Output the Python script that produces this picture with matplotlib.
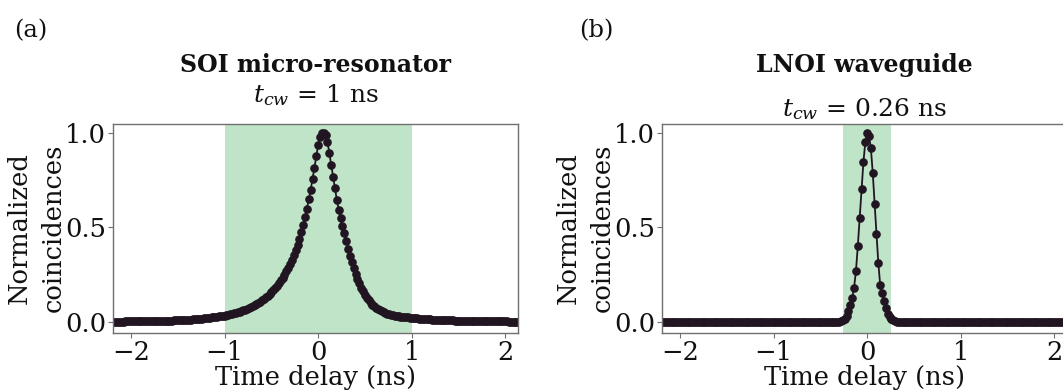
import numpy as np
import matplotlib
matplotlib.use("Agg")
import matplotlib.pyplot as plt

# ---------------- data ----------------
delay_ns = [
    -2.20, -2.18, -2.16, -2.14, -2.12, -2.10, -2.08, -2.06, -2.04, -2.02,
    -2.00, -1.98, -1.96, -1.94, -1.92, -1.90, -1.88, -1.86, -1.84, -1.82,
    -1.80, -1.78, -1.76, -1.74, -1.72, -1.70, -1.68, -1.66, -1.64, -1.62,
    -1.60, -1.58, -1.56, -1.54, -1.52, -1.50, -1.48, -1.46, -1.44, -1.42,
    -1.40, -1.38, -1.36, -1.34, -1.32, -1.30, -1.28, -1.26, -1.24, -1.22,
    -1.20, -1.18, -1.16, -1.14, -1.12, -1.10, -1.08, -1.06, -1.04, -1.02,
    -1.00, -0.98, -0.96, -0.94, -0.92, -0.90, -0.88, -0.86, -0.84, -0.82,
    -0.80, -0.78, -0.76, -0.74, -0.72, -0.70, -0.68, -0.66, -0.64, -0.62,
    -0.60, -0.58, -0.56, -0.54, -0.52, -0.50, -0.48, -0.46, -0.44, -0.42,
    -0.40, -0.38, -0.36, -0.34, -0.32, -0.30, -0.28, -0.26, -0.24, -0.22,
    -0.20, -0.18, -0.16, -0.14, -0.12, -0.10, -0.08, -0.06, -0.04, -0.02,
    0.00, 0.02, 0.04, 0.06, 0.08, 0.10, 0.12, 0.14, 0.16, 0.18,
    0.20, 0.22, 0.24, 0.26, 0.28, 0.30, 0.32, 0.34, 0.36, 0.38,
    0.40, 0.42, 0.44, 0.46, 0.48, 0.50, 0.52, 0.54, 0.56, 0.58,
    0.60, 0.62, 0.64, 0.66, 0.68, 0.70, 0.72, 0.74, 0.76, 0.78,
    0.80, 0.82, 0.84, 0.86, 0.88, 0.90, 0.92, 0.94, 0.96, 0.98,
    1.00, 1.02, 1.04, 1.06, 1.08, 1.10, 1.12, 1.14, 1.16, 1.18,
    1.20, 1.22, 1.24, 1.26, 1.28, 1.30, 1.32, 1.34, 1.36, 1.38,
    1.40, 1.42, 1.44, 1.46, 1.48, 1.50, 1.52, 1.54, 1.56, 1.58,
    1.60, 1.62, 1.64, 1.66, 1.68, 1.70, 1.72, 1.74, 1.76, 1.78,
    1.80, 1.82, 1.84, 1.86, 1.88, 1.90, 1.92, 1.94, 1.96, 1.98,
    2.00, 2.02, 2.04, 2.06, 2.08, 2.10, 2.12, 2.14, 2.16, 2.18,
    2.20,
]

soi_coinc = [
    0.0040, 0.0041, 0.0042, 0.0043, 0.0044, 0.0045, 0.0046, 0.0047, 0.0048, 0.0049,
    0.0050, 0.0051, 0.0052, 0.0053, 0.0055, 0.0056, 0.0057, 0.0059, 0.0061, 0.0063,
    0.0065, 0.0067, 0.0069, 0.0071, 0.0073, 0.0075, 0.0078, 0.0081, 0.0084, 0.0087,
    0.0090, 0.0093, 0.0097, 0.0100, 0.0105, 0.0110, 0.0115, 0.0120, 0.0125, 0.0130,
    0.0140, 0.0145, 0.0150, 0.0160, 0.0165, 0.0170, 0.0180, 0.0190, 0.0200, 0.0210,
    0.022, 0.023, 0.024, 0.026, 0.027, 0.028, 0.030, 0.031, 0.033, 0.034,
    0.036, 0.038, 0.040, 0.042, 0.045, 0.047, 0.050, 0.053, 0.056, 0.059,
    0.063, 0.067, 0.071, 0.075, 0.080, 0.085, 0.090, 0.096, 0.102, 0.109,
    0.116, 0.124, 0.132, 0.141, 0.150, 0.160, 0.171, 0.182, 0.194, 0.207,
    0.221, 0.236, 0.252, 0.269, 0.288, 0.308, 0.330, 0.354, 0.380, 0.408,
    0.439, 0.474, 0.512, 0.554, 0.600, 0.648, 0.699, 0.755, 0.815, 0.876,
    0.934, 0.975, 0.997, 1.000, 0.985, 0.952, 0.890, 0.829, 0.767, 0.706,
    0.645, 0.592, 0.548, 0.508, 0.469, 0.428, 0.389, 0.352, 0.318, 0.286,
    0.256, 0.229, 0.205, 0.183, 0.163, 0.146, 0.130, 0.116, 0.104, 0.094,
    0.085, 0.077, 0.070, 0.064, 0.059, 0.054, 0.050, 0.046, 0.043, 0.040,
    0.038, 0.036, 0.034, 0.032, 0.030, 0.029, 0.028, 0.027, 0.026, 0.025,
    0.024, 0.023, 0.022, 0.021, 0.020, 0.019, 0.018, 0.0175, 0.017, 0.016,
    0.0155, 0.0150, 0.0145, 0.0140, 0.0135, 0.0130, 0.0125, 0.0120, 0.0116, 0.0112,
    0.0108, 0.0104, 0.0100, 0.0097, 0.0094, 0.0091, 0.0088, 0.0085, 0.0082, 0.0080,
    0.0078, 0.0076, 0.0074, 0.0072, 0.0070, 0.0068, 0.0066, 0.0064, 0.0062, 0.0060,
    0.0058, 0.0057, 0.0056, 0.0055, 0.0054, 0.0053, 0.0052, 0.0051, 0.0050, 0.0049,
    0.0048, 0.0047, 0.0046, 0.0045, 0.0044, 0.0043, 0.0042, 0.0042, 0.0041, 0.0041,
    0.0040,
]

lnoi_coinc = [
    0.0, 0.0, 0.0, 0.0, 0.0, 0.0, 0.0, 0.0, 0.0, 0.0,
    0.0, 0.0, 0.0, 0.0, 0.0, 0.0, 0.0, 0.0, 0.0, 0.0,
    0.0, 0.0, 0.0, 0.0, 0.0, 0.0, 0.0, 0.0, 0.0, 0.0,
    0.0, 0.0, 0.0, 0.0, 0.0, 0.0, 0.0, 0.0, 0.0, 0.0,
    0.0, 0.0, 0.0, 0.0, 0.0, 0.0, 0.0, 0.0, 0.0, 0.0,
    0.0, 0.0, 0.0, 0.0, 0.0, 0.0, 0.0, 0.0, 0.0, 0.0,
    0.0, 0.0, 0.0, 0.0, 0.0, 0.0, 0.0, 0.0, 0.0, 0.0,
    0.0, 0.0, 0.0, 0.0, 0.0, 0.0, 0.0, 0.0, 0.0, 0.0,
    0.0, 0.0, 0.0, 0.0, 0.0, 0.0, 0.0, 0.0, 0.0, 0.0,
    0.0, 0.0, 0.001, 0.001, 0.002, 0.004, 0.007, 0.012, 0.019, 0.032,
    0.058, 0.094, 0.129, 0.182, 0.269, 0.400, 0.550, 0.704, 0.843, 0.948,
    1.000, 0.983, 0.918, 0.787, 0.625, 0.466, 0.311, 0.195, 0.155, 0.115,
    0.076, 0.045, 0.029, 0.017, 0.010, 0.006, 0.003, 0.002, 0.001, 0.0,
    0.0, 0.0, 0.0, 0.0, 0.0, 0.0, 0.0, 0.0, 0.0, 0.0,
    0.0, 0.0, 0.0, 0.0, 0.0, 0.0, 0.0, 0.0, 0.0, 0.0,
    0.0, 0.0, 0.0, 0.0, 0.0, 0.0, 0.0, 0.0, 0.0, 0.0,
    0.0, 0.0, 0.0, 0.0, 0.0, 0.0, 0.0, 0.0, 0.0, 0.0,
    0.0, 0.0, 0.0, 0.0, 0.0, 0.0, 0.0, 0.0, 0.0, 0.0,
    0.0, 0.0, 0.0, 0.0, 0.0, 0.0, 0.0, 0.0, 0.0, 0.0,
    0.0, 0.0, 0.0, 0.0, 0.0, 0.0, 0.0, 0.0, 0.0, 0.0,
    0.0, 0.0, 0.0, 0.0, 0.0, 0.0, 0.0, 0.0, 0.0, 0.0,
    0.0, 0.0, 0.0, 0.0, 0.0, 0.0, 0.0, 0.0, 0.0, 0.0,
    0.0,
]

panel_tags = ["(a)", "(b)"]
panel_titles = ["SOI micro-resonator", "LNOI waveguide"]
coherence_ns = [1.0, 0.26]
coherence_labels = [r"$t_{cw}$ = 1 ns", r"$t_{cw}$ = 0.26 ns"]
x_ticks = [-2, -1, 0, 1, 2]
y_ticks = [0.0, 0.5, 1.0]
y_tick_labels = ["0.0", "0.5", "1.0"]

# ---------------- style ----------------
plt.rcParams["font.family"] = ["DejaVu Serif"]
plt.rcParams["mathtext.fontset"] = "dejavuserif"
plt.rcParams["axes.unicode_minus"] = True

W, H = 1063, 391
fig = plt.figure(figsize=(W / 100, H / 100), dpi=100)

def fx(px):
    return px / W

def fy(py):
    return 1 - py / H

ax_w = 405 / W
ax_h = (333 - 123.5) / H
axes = [
    fig.add_axes([fx(113.3), fy(333), ax_w, ax_h]),
    fig.add_axes([fx(662.3), fy(333), ax_w, ax_h]),
]

point_color = "#221522"
span_color = "#c0e4c8"
spine_color = "#707070"
text_color = "#111111"
series = [soi_coinc, lnoi_coinc]
sub_baselines = [102, 116]
tag_x = [14, 579]
FS = 18.5

for i, ax in enumerate(axes):
    ax.axvspan(-coherence_ns[i], coherence_ns[i], facecolor=span_color,
               edgecolor="none", zorder=0)
    ax.plot(delay_ns, series[i], "-o", color=point_color, ms=5.2, lw=1.3,
            zorder=2)
    ax.set_xlim(-2.19, 2.14)
    ax.set_ylim(-0.056, 1.048)
    ax.set_xticks(x_ticks)
    ax.set_yticks(y_ticks)
    ax.set_yticklabels(y_tick_labels)
    for sp in ax.spines.values():
        sp.set_color(spine_color)
        sp.set_linewidth(1.0)
    ax.tick_params(length=3.5, width=0.8, color=spine_color, labelsize=FS,
                   pad=1.5, labelcolor=text_color)
    ax.set_xlabel("Time delay (ns)", fontsize=FS, labelpad=0,
                  color=text_color)
    ax.text(-0.19, 0.5, "Normalized\ncoincidences", transform=ax.transAxes,
            rotation=90, ha="center", va="center", multialignment="center",
            fontsize=FS, linespacing=1.45, color=text_color)
    cx = (ax.get_position().x0 + ax.get_position().x1) / 2
    fig.text(cx, fy(72), panel_titles[i], ha="center", va="baseline",
             fontsize=17, fontweight="bold", color=text_color)
    fig.text(cx, fy(sub_baselines[i]), coherence_labels[i], ha="center",
             va="baseline", fontsize=18, color=text_color)
    fig.text(fx(tag_x[i]), fy(37), panel_tags[i], ha="left", va="baseline",
             fontsize=17.5, color=text_color)

fig.savefig("out.png", dpi=100)
